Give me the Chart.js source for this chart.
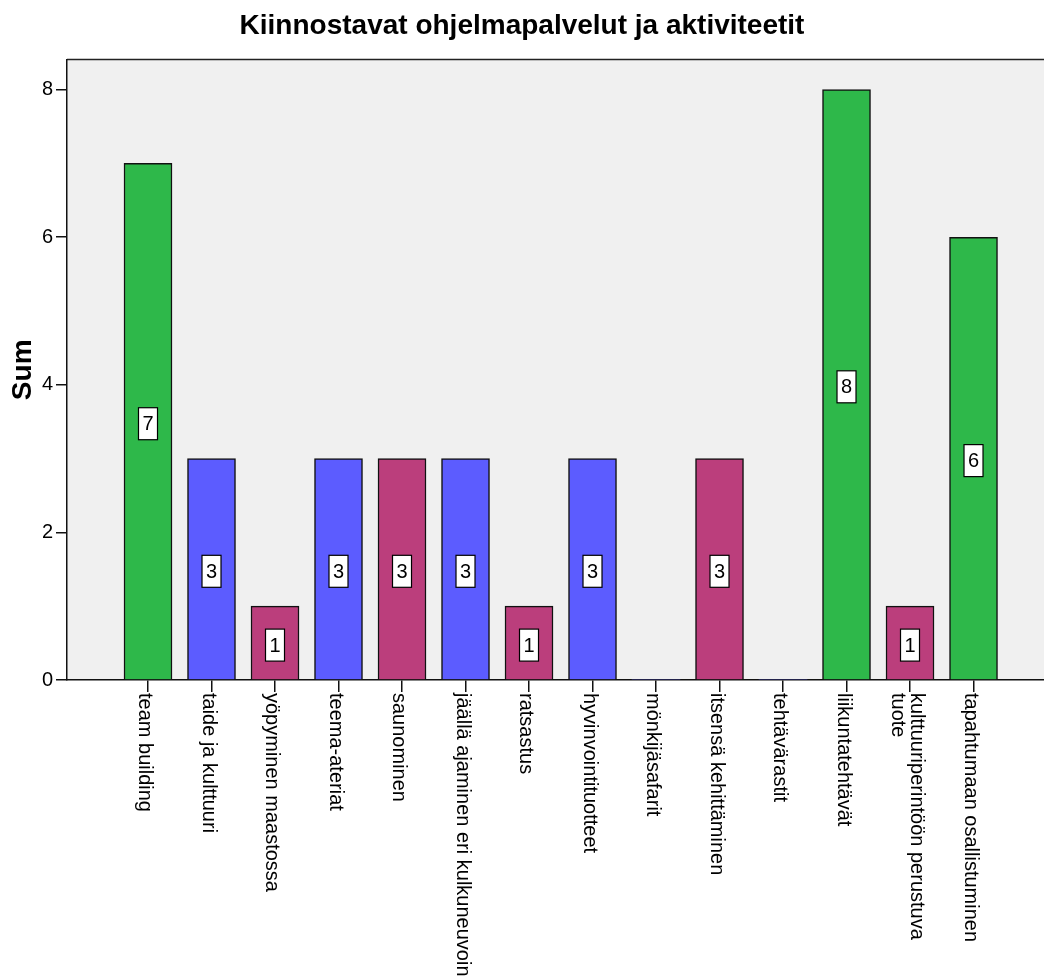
<!DOCTYPE html>
<html>
<head>
<meta charset="utf-8">
<script src="https://cdn.jsdelivr.net/npm/chart.js@4/dist/chart.umd.min.js"></script>
<style>
  html, body { margin: 0; padding: 0; background: #ffffff; overflow: hidden; }
  #wrap { width: 1044px; height: 980px; position: relative; }
</style>
</head>
<body>
<div id="wrap"><canvas id="c"></canvas></div>
<script>
const titleText = 'Kiinnostavat ohjelmapalvelut ja aktiviteetit';
const yAxisTitle = 'Sum';
const categories = [
  'team building',
  'taide ja kulttuuri',
  'yöpyminen maastossa',
  'teema-ateriat',
  'saunominen',
  'jäällä ajaminen eri kulkuneuvoin',
  'ratsastus',
  'hyvinvointituotteet',
  'mönkijäsafarit',
  'itsensä kehittäminen',
  'tehtävärastit',
  'liikuntatehtävät',
  'kulttuuriperintöön perustuva\ntuote',
  'tapahtumaan osallistuminen'
];
const values = [7, 3, 1, 3, 3, 3, 1, 3, 0, 3, 0, 8, 1, 6];
const groups = ['green', 'blue', 'magenta', 'blue', 'magenta', 'blue', 'magenta', 'blue', 'blue', 'magenta', 'blue', 'green', 'magenta', 'green'];
const yTicks = [0, 2, 4, 6, 8];

const palette = { green: '#2eb84a', blue: '#5c5cff', magenta: '#bb3e7c' };
const FONT = "'Liberation Sans', Arial, Helvetica, sans-serif";

const plotBg = {
  id: 'plotBg',
  beforeDraw(chart) {
    const { ctx, chartArea: a } = chart;
    ctx.save();
    ctx.fillStyle = '#f0f0f0';
    ctx.fillRect(a.left, a.top, a.right - a.left, a.bottom - a.top);
    ctx.strokeStyle = '#222';
    ctx.lineWidth = 1.5;
    ctx.beginPath();
    ctx.moveTo(a.left, a.top);
    ctx.lineTo(a.right + 2, a.top);
    ctx.stroke();
    ctx.restore();
  }
};

const valueBoxes = {
  id: 'valueBoxes',
  afterDatasetsDraw(chart) {
    const { ctx } = chart;
    const ys = chart.scales.y;
    const meta = chart.getDatasetMeta(0);
    ctx.save();
    ctx.font = '20px ' + FONT;
    ctx.textAlign = 'center';
    ctx.textBaseline = 'middle';
    meta.data.forEach((bar, i) => {
      const v = values[i];
      if (!v) return;
      const cx = bar.x;
      const cy = ys.getPixelForValue(v / 2) + 2;
      const w = 19, h = 32;
      ctx.fillStyle = '#ffffff';
      ctx.fillRect(cx - w / 2, cy - h / 2, w, h);
      ctx.strokeStyle = '#000';
      ctx.lineWidth = 1.2;
      ctx.strokeRect(cx - w / 2, cy - h / 2, w, h);
      ctx.fillStyle = '#000';
      ctx.fillText(String(v), cx, cy + 1);
    });
    ctx.restore();
  }
};

const xLabels = {
  id: 'xLabels',
  afterDraw(chart) {
    const { ctx } = chart;
    const xs = chart.scales.x;
    const top = chart.chartArea.bottom + 13;
    ctx.save();
    ctx.font = '20px ' + FONT;
    ctx.fillStyle = '#000';
    ctx.textAlign = 'left';
    ctx.textBaseline = 'middle';
    categories.forEach((label, i) => {
      const x = xs.getPixelForValue(i);
      const lines = label.split('\n');
      const n = lines.length;
      ctx.save();
      ctx.translate(x, top);
      ctx.rotate(Math.PI / 2);
      lines.forEach((ln, j) => {
        const ly = 3 + (j - (n - 1) / 2) * 19;
        ctx.fillText(ln, 0, ly);
      });
      ctx.restore();
    });
    ctx.restore();
  }
};

new Chart(document.getElementById('c'), {
  type: 'bar',
  data: {
    datasets: [{
      data: values.map((v, i) => ({ x: i, y: v })),
      backgroundColor: groups.map(g => palette[g]),
      borderColor: '#111',
      borderWidth: values.map(v => (v ? 1.5 : 0)),
      barThickness: 48
    }]
  },
  options: {
    responsive: true,
    maintainAspectRatio: false,
    animation: false,
    layout: { padding: { left: 0, right: 0, top: 0, bottom: 0 } },
    plugins: {
      legend: { display: false },
      tooltip: { enabled: false },
      title: {
        display: true,
        text: titleText,
        color: '#000',
        font: { family: FONT, size: 28, weight: 'bold', lineHeight: 1.2 },
        padding: { top: 9, bottom: 17 }
      }
    },
    scales: {
      x: {
        type: 'linear',
        offset: false,
        min: -1.2756,
        max: 14.11,
        grid: { offset: false, drawOnChartArea: false, drawTicks: true, tickLength: 12, color: '#111', lineWidth: 1.5 },
        border: { display: true, color: '#111', width: 1.5 },
        ticks: { display: false },
        afterBuildTicks(scale) {
          scale.ticks = categories.map((c, i) => ({ value: i }));
        },
        afterFit(scale) { scale.height = 300; }
      },
      y: {
        min: 0,
        max: 8.407,
        grid: { drawOnChartArea: false, drawTicks: true, tickLength: 11, color: '#111', lineWidth: 1.5 },
        border: { display: true, color: '#111', width: 1.5 },
        ticks: { color: '#000', font: { family: FONT, size: 20 }, padding: 3 },
        afterBuildTicks(scale) {
          scale.ticks = yTicks.map(v => ({ value: v }));
        },
        title: {
          display: true,
          text: yAxisTitle,
          color: '#000',
          font: { family: FONT, size: 28, weight: 'bold', lineHeight: 1.2 },
          padding: { top: 6, bottom: 0 }
        },
        afterFit(scale) { scale.width = 67; }
      }
    }
  },
  plugins: [plotBg, valueBoxes, xLabels]
});
</script>
</body>
</html>
